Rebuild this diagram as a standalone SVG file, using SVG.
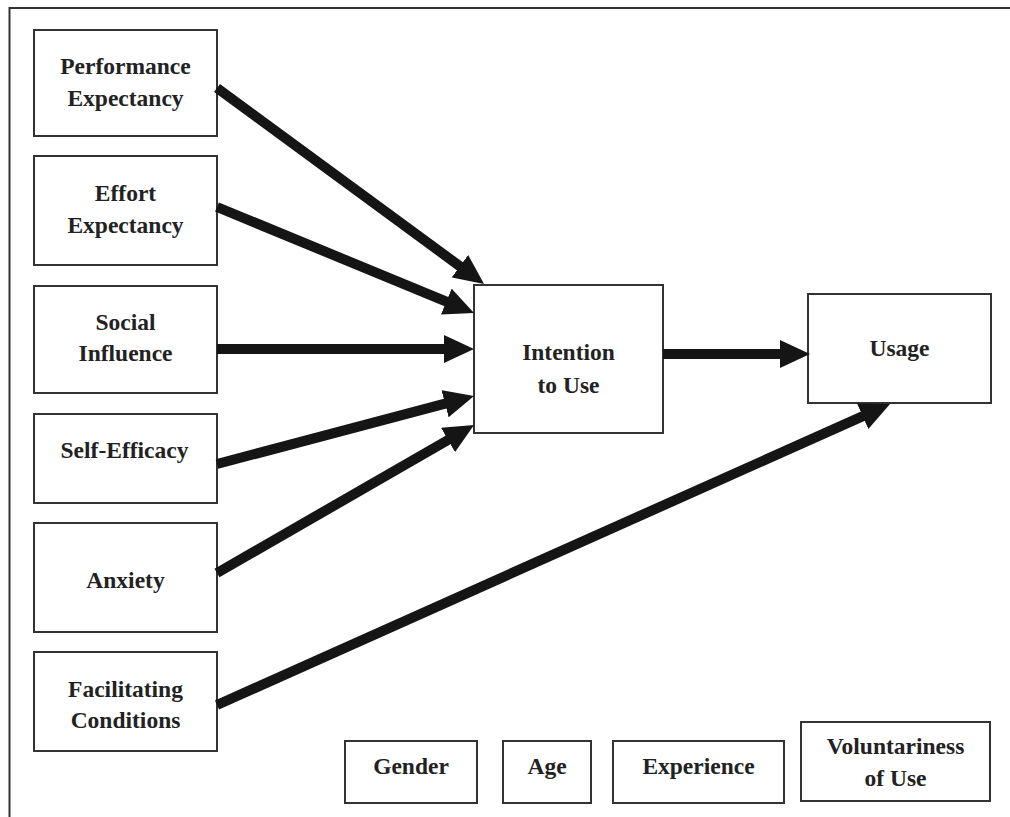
<svg xmlns="http://www.w3.org/2000/svg" width="1010" height="817" viewBox="0 0 1010 817">
<style>
.box{fill:#fff;stroke:#333;stroke-width:2}
.t{font-family:"Liberation Serif","Times New Roman",serif;font-weight:bold;font-size:23.5px;fill:#222;text-anchor:middle}
.arr{stroke:#151515;stroke-width:10;fill:none;marker-end:url(#head)}
.frame{stroke:#333;stroke-width:2;fill:none}
</style>
<defs>
<marker id="head" viewBox="0 0 30 28" markerUnits="userSpaceOnUse" markerWidth="30" markerHeight="28" refX="4" refY="14" orient="auto">
<path d="M0,0 L30,14 L0,28 z" fill="#151515"/>
</marker>
</defs>
<rect width="1010" height="817" fill="#fff"/>
<path class="frame" d="M9.5,817 V8 H1010"/>
<g id="pe"><rect class="box" x="34" y="30" width="183" height="106"/><text class="t" x="125.5" y="74">Performance</text><text class="t" x="125.5" y="106">Expectancy</text></g>
<g id="ee"><rect class="box" x="34" y="156" width="183" height="109"/><text class="t" x="125.5" y="201">Effort</text><text class="t" x="125.5" y="233">Expectancy</text></g>
<g id="si"><rect class="box" x="34" y="286" width="183" height="107"/><text class="t" x="125.5" y="330">Social</text><text class="t" x="125.5" y="361">Influence</text></g>
<g id="se"><rect class="box" x="34" y="414" width="183" height="89"/><text class="t" x="124.5" y="458">Self-Efficacy</text></g>
<g id="anx"><rect class="box" x="34" y="523" width="183" height="109"/><text class="t" x="125.5" y="588">Anxiety</text></g>
<g id="fc"><rect class="box" x="34" y="652" width="183" height="99"/><text class="t" x="125.5" y="697">Facilitating</text><text class="t" x="125.5" y="728">Conditions</text></g>
<g id="int"><rect class="box" x="474" y="285" width="189" height="148"/><text class="t" x="568.5" y="360">Intention</text><text class="t" x="568.5" y="393">to Use</text></g>
<g id="usage"><rect class="box" x="808" y="294" width="183" height="109"/><text class="t" x="899.5" y="356">Usage</text></g>
<g id="gender"><rect class="box" x="345" y="741" width="132" height="62"/><text class="t" x="411" y="774">Gender</text></g>
<g id="age"><rect class="box" x="503" y="741" width="88" height="62"/><text class="t" x="547" y="774">Age</text></g>
<g id="exp"><rect class="box" x="613" y="741" width="171" height="62"/><text class="t" x="698.5" y="774">Experience</text></g>
<g id="vol"><rect class="box" x="801" y="722" width="189" height="79"/><text class="t" x="895.5" y="754">Voluntariness</text><text class="t" x="895.5" y="786">of Use</text></g>
<g id="connectors">
<line class="arr" x1="217" y1="88" x2="463.1" y2="268.6"/>
<line class="arr" x1="217" y1="207" x2="450" y2="303.1"/>
<line class="arr" x1="217" y1="349" x2="448" y2="349"/>
<line class="arr" x1="217" y1="464" x2="448.9" y2="402.7"/>
<line class="arr" x1="217" y1="573" x2="451.5" y2="438"/>
<line class="arr" x1="663" y1="354" x2="784" y2="354"/>
<line class="arr" x1="217" y1="705" x2="866.3" y2="414.6"/>
</g>
</svg>
